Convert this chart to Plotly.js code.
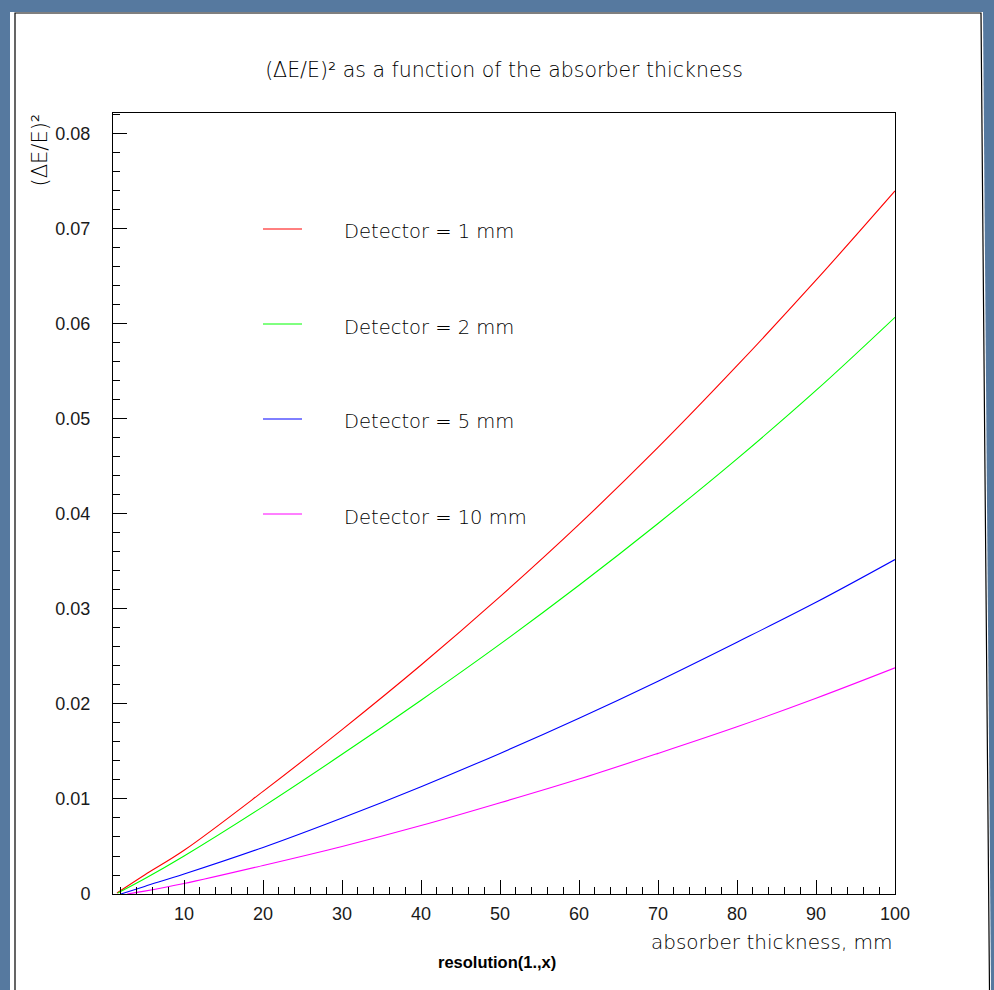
<!DOCTYPE html>
<html>
<head>
<meta charset="utf-8">
<script src="https://cdn.plot.ly/plotly-3.0.1.min.js"></script>
<style>
  html, body { margin: 0; padding: 0; background: #56799f; }
  #chart { width: 994px; height: 990px; }
</style>
</head>
<body>
<div id="chart"></div>
<script>
// ---- Data ----
const seriesNames = ["Detector = 1 mm", "Detector = 2 mm", "Detector = 5 mm", "Detector = 10 mm"];
const seriesColors = ["#ff0000", "#00ff00", "#0000ff", "#ff00ff"];

const thickness1mm = [1.5, 5, 10, 20, 30, 40, 50, 60, 70, 80, 90, 100];
const res1mm       = [0.0001, 0.0020, 0.0046, 0.0108, 0.0173, 0.0241, 0.0313, 0.0389, 0.0470, 0.0556, 0.0646, 0.0740];

const thickness2mm = [1.6, 5, 10, 20, 30, 40, 50, 60, 70, 80, 90, 100];
const res2mm       = [0.0001, 0.0016, 0.0040, 0.0092, 0.0147, 0.0204, 0.0263, 0.0325, 0.0390, 0.0458, 0.0530, 0.0607];

const thickness5mm = [2.0, 5, 10, 20, 30, 40, 50, 60, 70, 80, 90, 100];
const res5mm       = [0.0000, 0.0008, 0.0021, 0.0049, 0.0080, 0.0113, 0.0148, 0.0185, 0.0224, 0.0265, 0.0307, 0.0352];

const thickness10mm = [2.8, 5, 10, 20, 30, 40, 50, 60, 70, 80, 90, 100];
const res10mm       = [0.0000, 0.0003, 0.0011, 0.0030, 0.0050, 0.0072, 0.0096, 0.0121, 0.0148, 0.0176, 0.0206, 0.0238];

const xTickVals = [10, 20, 30, 40, 50, 60, 70, 80, 90, 100];
const yTickVals = [0, 0.01, 0.02, 0.03, 0.04, 0.05, 0.06, 0.07, 0.08];
const yTickText = ["0", "0.01", "0.02", "0.03", "0.04", "0.05", "0.06", "0.07", "0.08"];

const titleText = "(ΔE/E)² as a function of the absorber thickness";
const yTitleText = "(ΔE/E)²";
const xTitleText = "absorber thickness, mm";
const funcLabel = "resolution(1.,x)";

// ---- Layout geometry ----
const W = 994, H = 990;
const M = { l: 113, r: 99, t: 113, b: 96 };
const PW = W - M.l - M.r, PH = H - M.t - M.b;
const px = v => (v - M.l) / PW;          // pixel x -> paper x
const py = v => (H - M.b - v) / PH;      // pixel y -> paper y

const xs = [thickness1mm, thickness2mm, thickness5mm, thickness10mm];
const ys = [res1mm, res2mm, res5mm, res10mm];

const traces = ys.map((y, i) => ({
  type: "scatter",
  mode: "lines",
  x: xs[i],
  y: y,
  name: seriesNames[i],
  line: { color: seriesColors[i], width: 1.1, shape: "spline", smoothing: 1 },
  showlegend: false,
  hoverinfo: "skip"
}));

const thinFont = { family: "DejaVu Sans, Verdana, sans-serif", color: "#000000", weight: 200 };

const annotations = [
  { text: yTitleText, xref: "paper", yref: "paper", x: px(39), y: py(112),
    xanchor: "center", yanchor: "top", textangle: -90, showarrow: false,
    font: Object.assign({}, thinFont, { size: 21 }) },
  { text: xTitleText, xref: "paper", yref: "paper", x: px(895), y: py(942),
    xanchor: "right", yanchor: "middle", showarrow: false,
    font: Object.assign({}, thinFont, { size: 20 }) },
  { text: funcLabel, xref: "paper", yref: "paper", x: px(497), y: py(962),
    xanchor: "center", yanchor: "middle", showarrow: false,
    font: { family: "Liberation Sans, Arial, sans-serif", size: 16.5, color: "#000", weight: "bold" } }
];

const shapes = [
  // white slide panel
  { type: "path", xref: "paper", yref: "paper", layer: "below",
    path: `M ${px(10)},${py(12)} L ${px(983)},${py(12)} L ${px(991)},${py(991)} L ${px(10)},${py(991)} Z`,
    fillcolor: "#ffffff", line: { width: 0 } },
  // panel frame
  { type: "path", xref: "paper", yref: "paper", layer: "below",
    path: `M ${px(15)},${py(991)} L ${px(15)},${py(13)} L ${px(981)},${py(13)} L ${px(989.5)},${py(991)}`,
    line: { color: "#000", width: 1.2 } }
];

// manual legend (ROOT-style)
seriesNames.forEach((name, i) => {
  const ly = 229 + 95 * i;
  shapes.push({ type: "line", xref: "paper", yref: "paper",
    x0: px(263), x1: px(302), y0: py(ly), y1: py(ly),
    line: { color: seriesColors[i], width: 1 } });
  annotations.push({ text: name, xref: "paper", yref: "paper",
    x: px(342), y: py(ly + 3), xanchor: "left", yanchor: "middle", showarrow: false,
    font: Object.assign({}, thinFont, { size: 19.5 }) });
});

const axisCommon = {
  showline: true, linecolor: "#000", linewidth: 1, mirror: true,
  showgrid: false, zeroline: false,
  ticks: "inside", tickcolor: "#000", tickwidth: 1, ticklen: 14,
  tickfont: { family: "Liberation Sans, Arial, sans-serif", size: 18, color: "#1a1a1a" }
};

const layout = {
  width: W, height: H,
  margin: M,
  paper_bgcolor: "#56799f",
  plot_bgcolor: "rgba(0,0,0,0)",
  showlegend: false,
  title: {
    text: titleText,
    font: Object.assign({}, thinFont, { size: 20.5 }),
    xref: "paper", x: 0.5, xanchor: "center",
    yref: "container", y: 1 - 70 / H, yanchor: "middle"
  },
  xaxis: Object.assign({}, axisCommon, {
    range: [1, 100],
    tickmode: "array", tickvals: xTickVals,
    ticklabelstandoff: 3,
    minor: { dtick: 2, tick0: 0, ticks: "inside", ticklen: 7, tickcolor: "#000", tickwidth: 1, showgrid: false }
  }),
  yaxis: Object.assign({}, axisCommon, {
    range: [0, 0.0822],
    tickmode: "array", tickvals: yTickVals, ticktext: yTickText,
    ticklabelstandoff: 18,
    minor: { dtick: 0.002, tick0: 0, ticks: "inside", ticklen: 7, tickcolor: "#000", tickwidth: 1, showgrid: false }
  }),
  annotations: annotations,
  shapes: shapes
};

Plotly.newPlot("chart", traces, layout, { staticPlot: true, displayModeBar: false });
</script>
</body>
</html>
